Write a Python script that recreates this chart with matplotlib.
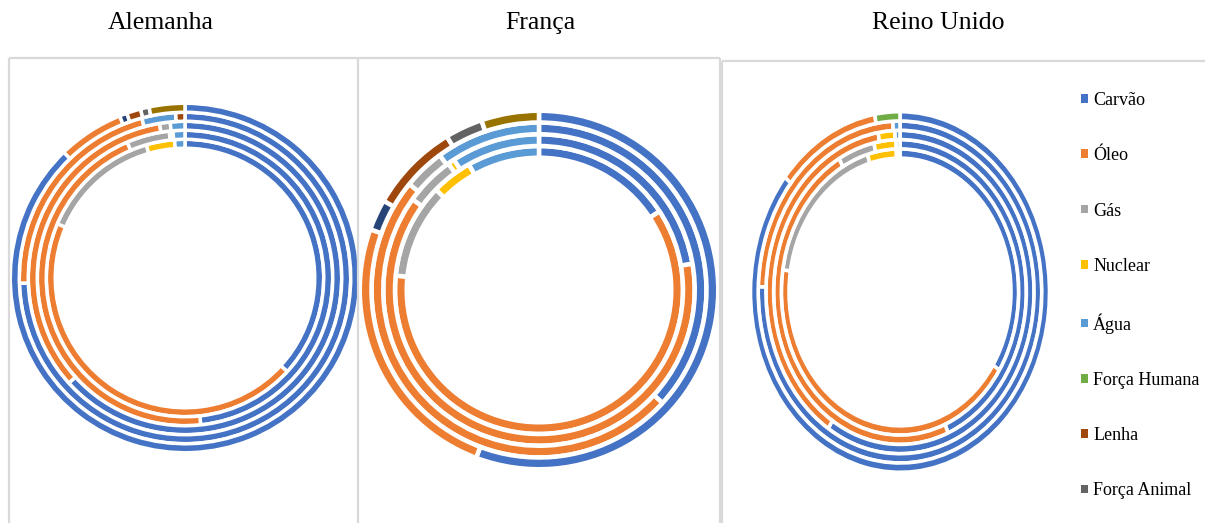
import matplotlib
matplotlib.use("Agg")
import matplotlib.pyplot as plt
from matplotlib.patches import Patch
from matplotlib.lines import Line2D

W, H = 1205, 523
DPI = 100

# Energy sources (column order of every ring); two series carry no legend entry
fontes = ["Carvão", "Óleo", "Gás", "Nuclear", "Água", "Força Humana",
          None, "Lenha", "Força Animal", None]
cores = ["#4472C4", "#ED7D31", "#A5A5A5", "#FFC000", "#5B9BD5", "#70AD47",
         "#264478", "#9E480E", "#636363", "#997300"]

# Shares (%) per ring, innermost ring first
alemanha = [
    [36.8, 44.6, 14.1, 3.3, 1.2, 0, 0, 0, 0, 0],
    [48.3, 45.3, 4.7, 0.4, 1.3, 0, 0, 0, 0, 0],
    [63.3, 34.1, 1.1, 0, 1.5, 0, 0, 0, 0, 0],
    [74.5, 21.3, 0, 0, 3.3, 0, 0, 0.9, 0, 0],
    [87.8, 6.1, 0, 0, 0, 0, 0.7, 1.3, 0.8, 3.3],
]
franca = [
    [15.8, 60.8, 10.7, 4.6, 8.1, 0, 0, 0, 0, 0],
    [22.3, 62.6, 5.2, 0.7, 9.2, 0, 0, 0, 0, 0],
    [36.8, 49.1, 4.0, 0, 10.1, 0, 0, 0, 0, 0],
    [55.7, 24.8, 0, 0, 0, 0, 2.8, 8.1, 3.4, 5.2],
]
reino_unido = [
    [34.2, 43.3, 18.1, 3.9, 0.5, 0, 0, 0, 0, 0],
    [43.8, 48.2, 4.7, 2.8, 0.5, 0, 0, 0, 0, 0],
    [59.0, 38.4, 0, 2.0, 0.6, 0, 0, 0, 0, 0],
    [75.5, 23.7, 0, 0, 0.8, 0, 0, 0, 0, 0],
    [86.0, 11.3, 0, 0, 0, 2.7, 0, 0, 0, 0],
]

titulos = ["Alemanha", "França", "Reino Unido"]

SERIF = ["Liberation Serif", "DejaVu Serif"]
BORDA = "#D9D9D9"

fig = plt.figure(figsize=(W / DPI, H / DPI), dpi=DPI)
fig.patch.set_facecolor("white")


def px_axes(x0, y0_top, w, h):
    """Axes placed in pixel coordinates measured from the top-left corner."""
    return fig.add_axes([x0 / W, 1 - (y0_top + h) / H, w / W, h / H])


def doughnut(cx, cy, rx, ry, aneis, gap_px):
    """Concentric rings drawn clockwise from 12 o'clock, outer edge at ry px."""
    n = len(aneis)
    S = 200.0                      # half extent of the data box
    w = 2 * S * rx / ry
    h = 2 * S
    ax = px_axes(cx - w / 2, cy - h / 2, w, h)
    ax.patch.set_visible(False)
    r_out = ry + gap_px / 2
    span = ry * 0.24               # outer edge minus hole radius
    pitch = (span + gap_px) / n
    for k, anel in enumerate(aneis):
        raio = r_out - (n - 1 - k) * pitch
        vals = [v for v in anel if v > 0]
        cols = [c for v, c in zip(anel, cores) if v > 0]
        ax.pie(vals, colors=cols, radius=raio, startangle=90,
               counterclock=False,
               wedgeprops=dict(width=pitch, edgecolor="white",
                               linewidth=gap_px * 72 / DPI))
    ax.set_aspect("auto")
    ax.set_xlim(-S, S)
    ax.set_ylim(-S, S)
    ax.set_axis_off()
    return ax


doughnut(185, 278, 173, 173, alemanha, 3.5)
doughnut(539, 290, 177, 177, franca, 4.5)
doughnut(900, 292, 148, 178.5, reino_unido, 3.6)

# Panel frames
def linha(x0, y0, x1, y1):
    fig.add_artist(Line2D([x0 / W, x1 / W], [1 - y0 / H, 1 - y1 / H],
                          transform=fig.transFigure, color=BORDA,
                          linewidth=1.6, solid_capstyle="butt"))

linha(9, 58, 358, 58)
linha(9, 58, 9, H)
linha(358, 58, 358, H)
linha(358, 58, 720, 58)
linha(720, 58, 720, H)
linha(722, 61, W, 61)
linha(722, 61, 722, H)

# Titles
for x, t in zip([160.5, 540, 938], titulos):
    fig.text(x / W, 1 - 23 / H, t, ha="center", va="center",
             family=SERIF, fontsize=18.5, color="black")

# Legend
handles = [Patch(facecolor=c, edgecolor="none")
           for f, c in zip(fontes, cores) if f is not None]
labels = [f for f in fontes if f is not None]
fig.legend(handles, labels, loc="upper left",
           bbox_to_anchor=(1081 / W, 1 - 92 / H),
           frameon=False, prop=dict(family=SERIF, size=13),
           handlelength=0.36, handleheight=0.36, handletextpad=0.32,
           labelspacing=2.12, borderpad=0, borderaxespad=0)

fig.savefig("out.png", dpi=DPI, facecolor="white")
